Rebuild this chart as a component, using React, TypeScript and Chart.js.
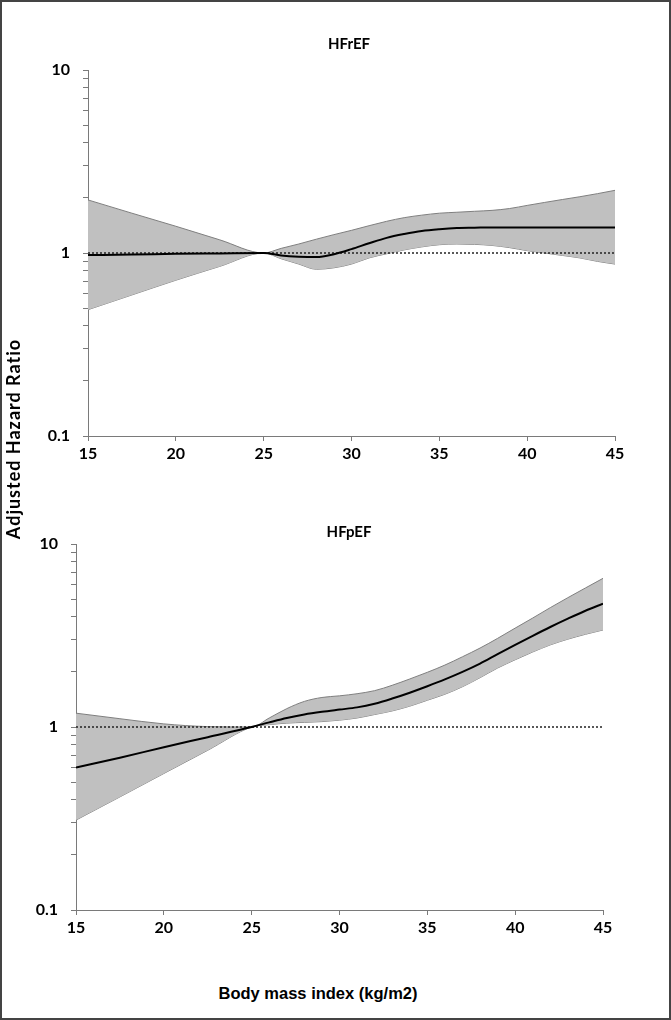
import React, { useEffect, useRef } from 'react';
import { Chart, registerables } from 'chart.js';

Chart.register(...registerables);

// ---------- data ----------
const BMI = [15, 17.5, 20, 22.5, 25, 26, 27, 28, 29, 30, 31, 32, 33, 34, 35, 36, 37, 38, 39, 40, 41, 42, 43, 44, 45];

const HFREF_HR = [0.975, 0.98, 0.99, 0.995, 1.0, 0.97, 0.955, 0.95, 0.985, 1.05, 1.13, 1.21, 1.27, 1.32, 1.35, 1.37, 1.375, 1.38, 1.38, 1.38, 1.38, 1.38, 1.38, 1.38, 1.38];
const HFREF_UPPER = [1.95, 1.65, 1.4, 1.18, 1.0, 1.06, 1.12, 1.19, 1.26, 1.33, 1.41, 1.49, 1.56, 1.61, 1.65, 1.67, 1.69, 1.71, 1.75, 1.82, 1.89, 1.96, 2.03, 2.11, 2.2];
const HFREF_LOWER = [0.49, 0.59, 0.71, 0.845, 1.0, 0.93, 0.87, 0.815, 0.83, 0.87, 0.94, 0.99, 1.04, 1.08, 1.11, 1.12, 1.115, 1.1, 1.07, 1.03, 1.0, 0.97, 0.94, 0.9, 0.87];

const HFPEF_HR = [0.6, 0.68, 0.775, 0.88, 1.0, 1.06, 1.12, 1.17, 1.21, 1.245, 1.28, 1.34, 1.43, 1.54, 1.67, 1.82, 2.0, 2.22, 2.5, 2.81, 3.15, 3.52, 3.91, 4.32, 4.72];
const HFPEF_UPPER = [1.19, 1.11, 1.04, 1.005, 1.0, 1.12, 1.26, 1.38, 1.45, 1.48, 1.52, 1.58, 1.69, 1.83, 1.99, 2.18, 2.42, 2.7, 3.05, 3.47, 3.94, 4.49, 5.09, 5.75, 6.49];
const HFPEF_LOWER = [0.31, 0.415, 0.557, 0.746, 1.0, 1.03, 1.05, 1.06, 1.07, 1.09, 1.12, 1.17, 1.224, 1.3, 1.4, 1.51, 1.66, 1.86, 2.1, 2.33, 2.57, 2.81, 3.02, 3.21, 3.39];

const REFERENCE_HR = 1;
const X_TICKS = [15, 20, 25, 30, 35, 40, 45];
const Y_TICKS = [0.1, 0.2, 0.3, 0.4, 0.5, 0.6, 0.7, 0.8, 0.9, 1, 2, 3, 4, 5, 6, 7, 8, 9, 10];
const Y_LABELS = [0.1, 1, 10];

const FONT = 'Lato, "Open Sans", sans-serif';
const AXIS_COLOR = '#7a7a7a';
const BAND_FILL = '#c0c0c0';
const BAND_EDGE = '#7f7f7f';

type Layout = {
  yWidth: number;
  padRight: number;
  padTop: number;
  padBottom: number;
};

function pts(values: number[]) {
  return BMI.map((x, i) => ({ x, y: values[i] }));
}

function buildConfig(hr: number[], upper: number[], lower: number[], layout: Layout): any {
  const first = BMI[0];
  const last = BMI[BMI.length - 1];
  const n = BMI.length - 1;
  const lineBase = { pointRadius: 0, pointHoverRadius: 0, cubicInterpolationMode: 'monotone' };
  return {
    type: 'scatter',
    data: {
      datasets: [
        { ...lineBase, data: pts(hr), showLine: true, borderColor: '#000', borderWidth: 2, fill: false },
        {
          ...lineBase,
          data: [{ x: first, y: REFERENCE_HR }, { x: last, y: REFERENCE_HR }],
          showLine: true,
          borderColor: '#222',
          borderWidth: 1.6,
          borderDash: [2, 2],
          fill: false,
        },
        { ...lineBase, data: pts(upper), showLine: true, borderColor: BAND_EDGE, borderWidth: 1, backgroundColor: BAND_FILL, fill: '+1' },
        { ...lineBase, data: pts(lower), showLine: true, borderColor: BAND_EDGE, borderWidth: 1, fill: false },
        { ...lineBase, data: [{ x: first, y: lower[0] }, { x: first, y: upper[0] }], showLine: true, borderColor: BAND_EDGE, borderWidth: 1, fill: false },
        { ...lineBase, data: [{ x: last, y: lower[n] }, { x: last, y: upper[n] }], showLine: true, borderColor: BAND_EDGE, borderWidth: 1, fill: false },
      ],
    },
    options: {
      responsive: false,
      animation: false,
      events: [],
      layout: { padding: { left: 0, right: layout.padRight, top: layout.padTop, bottom: layout.padBottom } },
      plugins: { legend: { display: false }, tooltip: { enabled: false }, title: { display: false } },
      scales: {
        x: {
          type: 'linear',
          min: 15,
          max: 45,
          afterBuildTicks: (scale: any) => {
            scale.ticks = X_TICKS.map((v) => ({ value: v }));
          },
          afterFit: (scale: any) => {
            scale.height = 40;
          },
          ticks: {
            autoSkip: false,
            maxRotation: 0,
            padding: 3,
            color: '#000',
            font: { family: FONT, size: 16, weight: 'bold' },
            callback: (v: any) => String(v),
          },
          grid: { display: true, drawOnChartArea: false, drawTicks: true, tickLength: 5, color: AXIS_COLOR, lineWidth: 1 },
          border: { display: true, color: AXIS_COLOR, width: 1 },
        },
        y: {
          type: 'logarithmic',
          min: 0.1,
          max: 10,
          afterBuildTicks: (scale: any) => {
            scale.ticks = Y_TICKS.map((v) => ({ value: v }));
          },
          afterFit: (scale: any) => {
            scale.width = layout.yWidth;
          },
          ticks: {
            autoSkip: false,
            padding: 13,
            color: '#000',
            font: { family: FONT, size: 16, weight: 'bold' },
            callback: (v: any) => (Y_LABELS.includes(Number(v)) ? String(v) : ''),
          },
          grid: { display: true, drawOnChartArea: false, drawTicks: true, tickLength: 5, color: AXIS_COLOR, lineWidth: 1 },
          border: { display: true, color: AXIS_COLOR, width: 1 },
        },
      },
    },
  };
}

function Panel(props: { top: number; height: number; hr: number[]; upper: number[]; lower: number[]; layout: Layout }) {
  const ref = useRef<HTMLCanvasElement | null>(null);
  useEffect(() => {
    if (!ref.current) return;
    const chart = new Chart(ref.current, buildConfig(props.hr, props.upper, props.lower, props.layout));
    return () => chart.destroy();
  }, []);
  return (
    <canvas
      ref={ref}
      width={671}
      height={props.height}
      style={{ position: 'absolute', left: 0, top: props.top, width: 671, height: props.height, display: 'block' }}
    />
  );
}

const textStyle: React.CSSProperties = {
  position: 'absolute',
  transform: 'translate(-50%, -50%)',
  whiteSpace: 'nowrap',
  fontWeight: 'bold',
  color: '#000',
  lineHeight: 1,
};

export default function App() {
  return (
    <div style={{ position: 'absolute', left: 0, top: 0, width: 671, height: 1020, background: '#fff', overflow: 'hidden' }}>
      <Panel top={0} height={480} hr={HFREF_HR} upper={HFREF_UPPER} lower={HFREF_LOWER} layout={{ yWidth: 88, padRight: 56, padTop: 70, padBottom: 4 }} />
      <Panel top={480} height={480} hr={HFPEF_HR} upper={HFPEF_UPPER} lower={HFPEF_LOWER} layout={{ yWidth: 76, padRight: 68, padTop: 64, padBottom: 10 }} />
      <div style={{ ...textStyle, left: 349, top: 43, fontFamily: FONT, fontSize: 15 }}>HFrEF</div>
      <div style={{ ...textStyle, left: 349, top: 531, fontFamily: FONT, fontSize: 15 }}>HFpEF</div>
      <div
        style={{
          ...textStyle,
          left: 13,
          top: 439,
          fontFamily: FONT,
          fontSize: 18,
          letterSpacing: 1,
          transform: 'translate(-50%, -50%) rotate(-90deg)',
        }}
      >
        Adjusted Hazard Ratio
      </div>
      <div style={{ ...textStyle, left: 318, top: 993, fontFamily: '"Liberation Sans", Arial, sans-serif', fontSize: 16.5 }}>
        Body mass index (kg/m2)
      </div>
      <div style={{ position: 'absolute', left: 0, top: 0, width: 671, height: 1020, boxSizing: 'border-box', border: '2px solid #444', pointerEvents: 'none' }} />
    </div>
  );
}
